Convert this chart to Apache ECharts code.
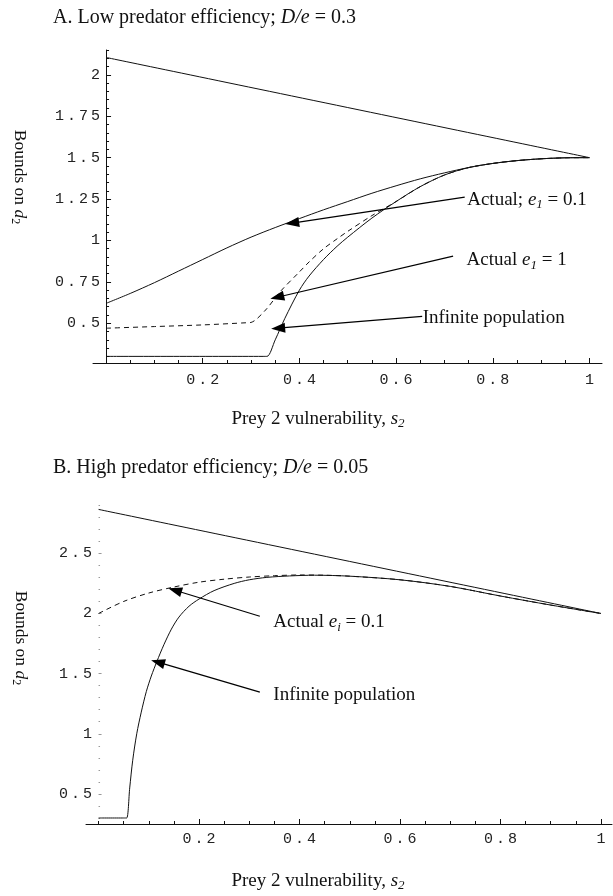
<!DOCTYPE html>
<html>
<head>
<meta charset="utf-8">
<script src="https://cdn.jsdelivr.net/npm/echarts@6/dist/echarts.min.js"></script>
<style>
  html, body { margin: 0; background: #fff; }
  #main { width: 613px; height: 896px; }
</style>
</head>
<body>
<div id="main"></div>
<script>
// ---- panel A: low predator efficiency, D/e = 0.3 ----
var aUpper = [[0, 2.105], [1, 1.5]];
var aActual01 = [[0, 0.62], [0.05, 0.68], [0.1, 0.745], [0.15, 0.815], [0.2, 0.885], [0.25, 0.955],
  [0.3, 1.02], [0.35, 1.078], [0.4, 1.132], [0.45, 1.185], [0.5, 1.235], [0.55, 1.285],
  [0.6, 1.33], [0.65, 1.372], [0.7, 1.408], [0.75, 1.44], [0.8, 1.465], [0.85, 1.482],
  [0.9, 1.493], [0.95, 1.499], [1, 1.5]];
var aActual1 = [[0, 0.47], [0.1, 0.48], [0.2, 0.49], [0.29, 0.503], [0.3, 0.505], [0.33, 0.58],
  [0.36, 0.69], [0.4, 0.81], [0.42, 0.87], [0.45, 0.95], [0.478, 1.01], [0.5, 1.055], [0.55, 1.15],
  [0.6, 1.235], [0.65, 1.325], [0.7, 1.395], [0.75, 1.44], [0.8, 1.465], [0.85, 1.482],
  [0.9, 1.493], [0.95, 1.499], [1, 1.5]];
var aInfinite = [[0, 0.3], [0.325, 0.3], [0.333, 0.3], [0.35, 0.4], [0.37, 0.53], [0.4, 0.7],
  [0.42, 0.785], [0.45, 0.885], [0.478, 0.965], [0.5, 1.02], [0.55, 1.135], [0.6, 1.235],
  [0.65, 1.325], [0.7, 1.395], [0.75, 1.44], [0.8, 1.465], [0.85, 1.482], [0.9, 1.493],
  [0.95, 1.499], [1, 1.5]];
var aXTicks = [0.2, 0.4, 0.6, 0.8, 1];
var aYTicks = [0.5, 0.75, 1, 1.25, 1.5, 1.75, 2];
var aNoteText = ['Actual; {i|e}{s|1} = 0.1', 'Actual {i|e}{s|1} = 1', 'Infinite population'];
var aNoteFrom = [[0.742, 1.262], [0.718, 0.905], [0.654, 0.542]];
var aNoteTo = [[0.385, 1.105], [0.354, 0.657], [0.356, 0.47]];

// ---- panel B: high predator efficiency, D/e = 0.05 ----
var bUpper = [[0, 2.865], [1, 2.0]];
var bActual = [[0, 2.0], [0.05, 2.1], [0.1, 2.17], [0.15, 2.22], [0.2, 2.26], [0.25, 2.285],
  [0.3, 2.303], [0.35, 2.314], [0.4, 2.32], [0.45, 2.318], [0.5, 2.31], [0.6, 2.28],
  [0.7, 2.225], [0.8, 2.145], [0.9, 2.07], [1, 2.0]];
var bInfinite = [[0, 0.3], [0.05, 0.3], [0.056, 0.3], [0.062, 0.55], [0.068, 0.78], [0.076, 1.0],
  [0.085, 1.18], [0.095, 1.35], [0.105, 1.48], [0.116, 1.6], [0.13, 1.74], [0.145, 1.87],
  [0.16, 1.97], [0.18, 2.06], [0.2, 2.12], [0.23, 2.19], [0.27, 2.25], [0.3, 2.28], [0.335, 2.3],
  [0.38, 2.312], [0.43, 2.318], [0.5, 2.31], [0.6, 2.28], [0.7, 2.225], [0.8, 2.145],
  [0.9, 2.07], [1, 2.0]];
var bXTicks = [0.2, 0.4, 0.6, 0.8, 1];
var bYTicks = [0.5, 1, 1.5, 2, 2.5];
var bNoteText = ['Actual {i|e}{s|i} = 0.1', 'Infinite population'];
var bNoteFrom = [[0.321, 1.977], [0.321, 1.346]];
var bNoteTo = [[0.152, 2.193], [0.118, 1.595]];

var INK = '#111';
var serif = 'Liberation Serif';
var mono = 'Liberation Mono';
var FS = 19;

var textRich = {
  i: { fontFamily: serif, fontSize: FS, fontStyle: 'italic', color: INK },
  s: { fontFamily: serif, fontSize: 13, fontStyle: 'italic', color: INK, padding: [10, 0, 0, 0] },
  t: { fontFamily: serif, fontSize: 20, fontStyle: 'italic', color: INK },
  v: { fontFamily: serif, fontSize: 17.5, fontStyle: 'italic', color: INK },
  u: { fontFamily: serif, fontSize: 12, color: INK, padding: [9, 0, 0, 0] }
};
var tickRich = {
  d: { fontFamily: mono, fontSize: 15, color: '#222' },
  g: { fontFamily: mono, fontSize: 5 }
};

// Mathematica-like spaced tick numbers
function spaced(v) {
  var s = String(+v.toFixed(2));
  return s.split('').map(function (c) { return '{d|' + c + '}'; }).join('{g| }');
}

function minors(lo, hi, step, majors) {
  var out = [];
  for (var k = Math.ceil(lo / step - 1e-9); k * step <= hi + 1e-9; k++) {
    var v = +(k * step).toFixed(3);
    if (majors.indexOf(v) < 0) out.push(v);
  }
  return out;
}

function xAxes(gi, min, max, ticks, minorStep, margin) {
  return [{
    type: 'value', gridIndex: gi, min: min, max: max, position: 'bottom',
    axisLine: { lineStyle: { color: INK, width: 1 } },
    axisTick: { inside: true, length: 5, customValues: ticks, lineStyle: { color: INK } },
    axisLabel: { customValues: ticks, margin: margin, formatter: spaced, rich: tickRich },
    splitLine: { show: false }
  }, {
    type: 'value', gridIndex: gi, min: min, max: max, position: 'bottom',
    axisLine: { show: false },
    axisTick: { inside: true, length: 3, customValues: minors(0, max, minorStep, ticks), lineStyle: { color: INK } },
    axisLabel: { show: false },
    splitLine: { show: false }
  }];
}

function yAxes(gi, min, max, ticks, minorStep, margin, faint) {
  var tickColor = faint ? '#999' : INK;
  return [{
    type: 'value', gridIndex: gi, min: min, max: max, position: 'left',
    axisLine: { onZero: true, onZeroAxisIndex: gi * 2, lineStyle: { color: INK, width: 1, opacity: faint ? 0 : 1 } },
    axisTick: { inside: true, length: faint ? 3 : 5, customValues: ticks, lineStyle: { color: tickColor } },
    axisLabel: { customValues: ticks, margin: margin, formatter: spaced, rich: tickRich },
    splitLine: { show: false }
  }, {
    type: 'value', gridIndex: gi, min: min, max: max, position: 'left',
    axisLine: { show: false, onZero: true, onZeroAxisIndex: gi * 2 },
    axisTick: { inside: true, length: faint ? 1.5 : 3, customValues: minors(min, max, minorStep, ticks), lineStyle: { color: tickColor } },
    axisLabel: { show: false },
    splitLine: { show: false }
  }];
}

function curve(gi, data, dashed) {
  return {
    type: 'line', xAxisIndex: gi * 2, yAxisIndex: gi * 2, data: data,
    showSymbol: false, symbol: 'none', silent: true, smooth: 0.3,
    lineStyle: { color: INK, width: 1, type: dashed ? [5, 4] : 'solid' }
  };
}

function notes(gi, texts, from, to, offsets) {
  return {
    type: 'line', xAxisIndex: gi * 2, yAxisIndex: gi * 2, data: [], silent: true,
    markLine: {
      silent: true, animation: false,
      symbol: ['none', 'triangle'], symbolSize: [10, 14],
      lineStyle: { color: '#000', width: 1.2, type: 'solid' },
      label: { show: false },
      data: from.map(function (f, k) { return [{ coord: f }, { coord: to[k] }]; })
    },
    markPoint: {
      silent: true, animation: false, symbol: 'circle', symbolSize: 1,
      itemStyle: { color: 'rgba(0,0,0,0)' },
      data: from.map(function (f, k) {
        return {
          coord: f,
          label: {
            show: true, position: 'right', distance: 0, offset: offsets[k],
            formatter: texts[k],
            fontFamily: serif, fontSize: FS, color: INK, rich: textRich
          }
        };
      })
    }
  };
}

function txt(x, y, str, size, rot) {
  return {
    type: 'text', x: x, y: y, rotation: rot || 0, silent: true,
    style: {
      text: str, fontFamily: serif, fontSize: size, fill: INK,
      align: rot ? 'center' : (x < 100 ? 'left' : 'center'), verticalAlign: 'middle', rich: textRich
    }
  };
}

var chart = echarts.init(document.getElementById('main'), null, { renderer: 'canvas' });
chart.setOption({
  animation: false,
  backgroundColor: '#fff',
  grid: [
    { left: 93, top: 50, width: 509, height: 313 },
    { left: 86, top: 504, width: 526, height: 320 }
  ],
  xAxis: xAxes(0, -0.027, 1.026, aXTicks, 0.05, 10).concat(xAxes(1, -0.025, 1.022, bXTicks, 0.05, 8)),
  yAxis: yAxes(0, 0.26, 2.15, aYTicks, 0.05, -7, false).concat(yAxes(1, 0.25, 2.91, bYTicks, 0.1, -6, true)),
  graphic: [
    txt(53, 18, 'A. Low predator efficiency; {t|D/e} = 0.3', 20),
    txt(53, 468, 'B. High predator efficiency; {t|D/e} = 0.05', 20),
    txt(318, 419, 'Prey 2 vulnerability, {i|s}{s|2}', FS),
    txt(318, 881, 'Prey 2 vulnerability, {i|s}{s|2}', FS),
    txt(20, 177, 'Bounds on {v|d}{u|2}', 17.5, -Math.PI / 2),
    txt(21, 638, 'Bounds on {v|d}{u|2}', 17.5, -Math.PI / 2)
  ],
  series: [
    curve(0, aUpper, false),
    curve(0, aActual01, false),
    curve(0, aActual1, true),
    curve(0, aInfinite, false),
    notes(0, aNoteText, aNoteFrom, aNoteTo, [[2, 3], [13, 4], [0, 2]]),
    curve(1, bUpper, false),
    curve(1, bActual, true),
    curve(1, bInfinite, false),
    notes(1, bNoteText, bNoteFrom, bNoteTo, [[13, 6], [13, 3]])
  ]
});
</script>
</body>
</html>
